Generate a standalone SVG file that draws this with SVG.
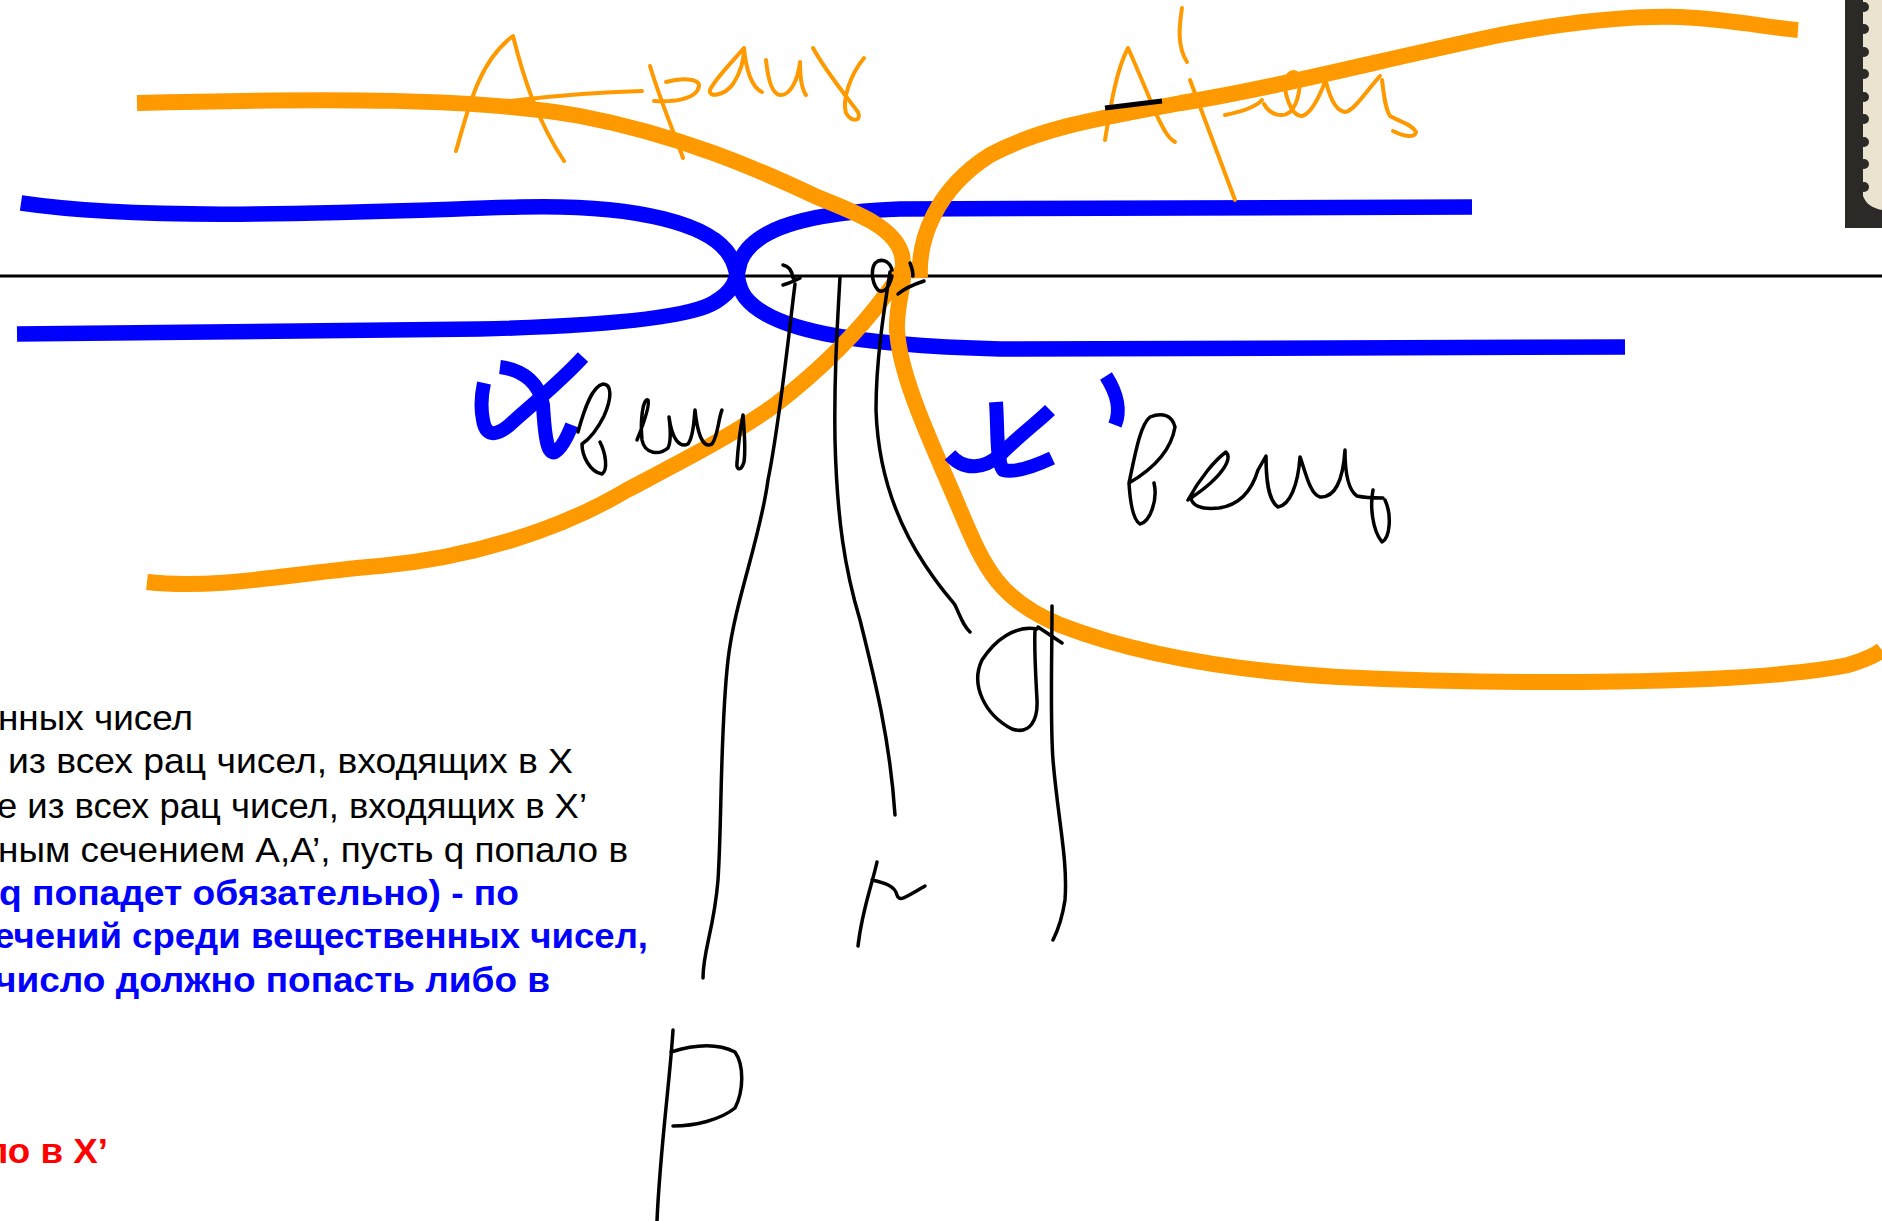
<svg xmlns="http://www.w3.org/2000/svg" width="1882" height="1221" viewBox="0 0 1882 1221">
<style>
.blue{fill:none;stroke:#0000ff;stroke-width:15.5;stroke-linecap:butt;stroke-linejoin:round}
.orange{fill:none;stroke:#ff9900;stroke-width:16;stroke-linecap:butt;stroke-linejoin:round}
.ohand{fill:none;stroke:#ff9900;stroke-width:4;stroke-linecap:round;stroke-linejoin:round}
.ink{fill:none;stroke:#000000;stroke-width:3.5;stroke-linecap:round;stroke-linejoin:round}
.bmark{fill:none;stroke:#0000ff;stroke-width:14;stroke-linecap:butt;stroke-linejoin:round}
.t{font-family:"Liberation Sans",Arial,sans-serif;font-size:35px;fill:#000000}
.tb{font-weight:bold}
.tblue{fill:#0000ff}
.tred{fill:#ff0000}
</style>
<rect width="1882" height="1221" fill="#ffffff"/>

<g id="text-block">
<text class="t" x="-2" y="730" textLength="195" lengthAdjust="spacingAndGlyphs">нных чисел</text>
<text class="t" x="8" y="773" textLength="565" lengthAdjust="spacingAndGlyphs">из всех рац чисел, входящих в X</text>
<text class="t" x="-3" y="818" textLength="590" lengthAdjust="spacingAndGlyphs">е из всех рац чисел, входящих в X’</text>
<text class="t" x="-2" y="862" textLength="630" lengthAdjust="spacingAndGlyphs">ным сечением A,A’, пусть q попало в</text>
<text class="t tb tblue" x="-1" y="905" textLength="520" lengthAdjust="spacingAndGlyphs">q попадет обязательно) - по</text>
<text class="t tb tblue" x="-6" y="948" textLength="654" lengthAdjust="spacingAndGlyphs">ечений среди вещественных чисел,</text>
<text class="t tb tblue" x="-5" y="992" textLength="555" lengthAdjust="spacingAndGlyphs">число должно попасть либо в</text>
<text class="t tb tred" x="-15" y="1163" textLength="123" lengthAdjust="spacingAndGlyphs">ло в X’</text>
</g>

<g id="axis">
<line x1="0" y1="276" x2="1882" y2="276" stroke="#000000" stroke-width="3"/>
</g>

<g id="blue-curves">
<path class="blue" d="M21,203 C150,222 350,212 520,207 C640,204 712,225 730,256 C740,272 735,284 745,297 C770,330 850,345 1000,349 L1625,347"/>
<path class="blue" d="M17,334 L480,329 C600,326 690,318 715,302 C735,290 736,280 740,262 C750,235 790,213 900,209 L1472,207"/>
</g>

<g id="orange-curves">
<path class="orange" d="M137,103 C330,98 480,98 580,116 C680,135 760,170 817,197 C860,214 895,228 902,255 C907,285 896,300 897,330 C900,380 935,450 960,510 C985,570 1000,600 1060,625 C1130,652 1220,670 1338,677 C1500,685 1750,685 1848,665 C1865,660 1876,655 1882,650"/>
<path class="orange" d="M147,582 C220,590 300,572 380,566 C470,558 560,530 627,490 C680,462 730,437 775,405 C820,370 860,330 887,293 C895,283 900,275 903,268"/>
<path class="orange" d="M920,278 C918,240 935,190 990,155 C1040,128 1100,118 1181,103 C1280,87 1380,60 1500,35 C1580,20 1640,16 1680,17 C1730,19 1770,28 1798,30"/>
</g>

<g id="label-a-razr">
<path class="ohand" d="M456,151 C468,110 478,62 513,36 C524,80 538,122 564,161"/>
<path class="ohand" d="M510,101 C560,95 600,92 642,91"/>
<path class="ohand" d="M650,66 C660,100 675,135 683,158"/>
<path class="ohand" d="M654,101 C672,102 697,100 699,86 C700,78 680,78 666,82"/>
<path class="ohand" d="M744,48 C732,62 714,80 710,90 C708,98 724,96 733,84 C741,72 744,60 744,48 C746,70 752,88 762,92"/>
<path class="ohand" d="M766,60 C768,80 772,94 780,95 C790,96 798,80 800,62 C800,75 801,88 806,95"/>
<path class="ohand" d="M813,48 C825,70 845,95 858,112 C862,121 852,123 846,113 C842,100 850,75 864,58"/>
</g>

<g id="label-a-prime-razr">
<path class="ohand" d="M1105,140 C1110,110 1116,70 1128,48 C1138,70 1150,100 1158,118 C1164,130 1168,138 1175,142"/>
<path class="ohand" d="M1182,8 C1180,22 1176,45 1187,62"/>
<path class="ohand" d="M1190,80 C1205,120 1220,160 1235,200"/>
<path class="ohand" d="M1225,115 C1240,112 1255,108 1262,100"/>
<path class="ohand" d="M1264,104 C1270,115 1282,118 1290,112 C1298,104 1302,85 1298,74 C1292,68 1284,76 1285,88 C1287,102 1293,116 1302,116 C1310,114 1318,100 1325,82"/>
<path class="ohand" d="M1326,82 C1330,98 1336,112 1346,112 C1356,108 1364,94 1380,76"/>
<path class="ohand" d="M1382,80 C1384,95 1385,108 1390,116 C1400,122 1412,124 1416,132 C1415,138 1405,137 1393,131"/>
<path d="M1105,108 L1162,101" fill="none" stroke="#000000" stroke-width="5"/>
</g>

<g id="label-x-vesch">
<path class="bmark" d="M500,367 C525,370 540,385 543,405 C545,440 548,455 555,452 C562,448 568,435 572,425"/>
<path class="bmark" d="M583,357 C560,382 535,402 515,420 C500,435 486,440 483,420 C480,405 482,392 484,383"/>
<path class="ink" d="M578,432 C584,410 592,386 603,384 C612,384 612,398 604,416 C596,432 588,440 582,444 C582,456 590,472 602,474 C608,470 606,454 600,442"/>
<path class="ink" d="M637,440 C645,420 650,405 648,400 C643,398 640,420 642,440 C645,455 660,455 668,448 C672,440 670,425 669,417 C672,440 680,448 688,444 C694,436 694,418 695,410 C697,430 702,450 712,444 C718,436 718,420 722,410"/>
<path class="ink" d="M743,415 C740,430 738,448 737,463 C736,470 741,472 744,462 C746,448 744,428 743,415"/>
</g>

<g id="label-x-prime-vesch">
<path class="bmark" d="M950,455 C965,472 985,468 1000,455 C1020,435 1040,420 1050,410"/>
<path class="bmark" d="M996,402 C998,430 996,460 1003,470 C1015,473 1035,466 1052,458"/>
<path class="bmark" d="M1106,376 C1118,395 1121,410 1115,425"/>
<path class="ink" d="M1129,483 C1135,455 1140,425 1150,417 C1162,412 1172,415 1175,427 C1172,445 1160,465 1129,483 C1130,500 1133,520 1140,524 C1150,522 1158,500 1154,483"/>
<path class="ink" d="M1188,500 C1200,478 1215,460 1226,452 C1232,458 1225,475 1191,498 C1192,505 1200,510 1219,508 C1240,505 1252,490 1258,470 L1266,456 C1266,480 1268,500 1278,507 C1290,505 1298,485 1300,457 C1305,470 1310,495 1320,497 C1335,498 1343,480 1345,450 C1345,470 1348,490 1357,496 C1366,498 1376,498 1383,498"/>
<path class="ink" d="M1373,490 C1370,505 1372,530 1382,542 C1390,538 1392,515 1385,500"/>
</g>

<g id="pointer-lines">
<path class="ink" d="M783,265 C788,266 792,270 793,278 C796,280 799,279 800,278 M800,278 C795,281 789,283 783,285"/>
<path class="ink" d="M795,284 C788,340 780,420 768,480 C760,540 735,600 728,660 C720,730 722,820 718,880 C714,930 703,950 703,978"/>
<path class="ink" d="M840,277 C837,330 834,380 835,440 C837,520 845,570 860,620 C875,680 890,740 895,815"/>
<path class="ink" d="M892,270 C890,262 884,259 878,261 C870,265 871,282 878,290 C884,294 889,288 892,276 M890,272 C884,310 876,360 876,410 C878,470 895,520 925,565 C945,595 952,600 955,605 C962,620 963,625 970,632"/>
<path class="ink" d="M898,294 C905,288 912,285 924,281 M910,263 C912,268 913,272 913,276"/>
<path class="ink" d="M1052,606 C1052,660 1050,720 1053,760 C1058,820 1068,860 1065,900 C1062,920 1058,930 1053,940"/>
<path class="ink" d="M1037,629 C1015,625 995,640 982,660 C970,685 985,715 1012,729 C1030,735 1038,720 1037,700 C1036,680 1034,650 1035,630 M1038,627 L1062,643"/>
<path class="ink" d="M877,862 C872,885 862,910 858,946 M872,880 C885,883 895,886 897,895 C899,902 905,898 925,886"/>
<path class="ink" d="M673,1030 C670,1080 660,1150 657,1221 M671,1052 C690,1046 715,1042 735,1052 C744,1065 744,1090 735,1108 C720,1120 695,1126 673,1126"/>
</g>

<g id="photo-strip">
<rect x="1845" y="0" width="37" height="228" fill="#2b2a26"/>
<path d="M1863,0 L1882,0 L1882,210 C1872,208 1866,204 1863,196 Z" fill="#e9e3cf"/>
<g fill="#2b2a26">
<circle cx="1864" cy="7" r="5"/><circle cx="1864" cy="29" r="5"/><circle cx="1864" cy="52" r="5"/>
<circle cx="1864" cy="74" r="5"/><circle cx="1864" cy="97" r="5"/><circle cx="1864" cy="119" r="5"/>
<circle cx="1864" cy="142" r="5"/><circle cx="1864" cy="164" r="5"/><circle cx="1864" cy="187" r="5"/>
</g>
</g>
</svg>
